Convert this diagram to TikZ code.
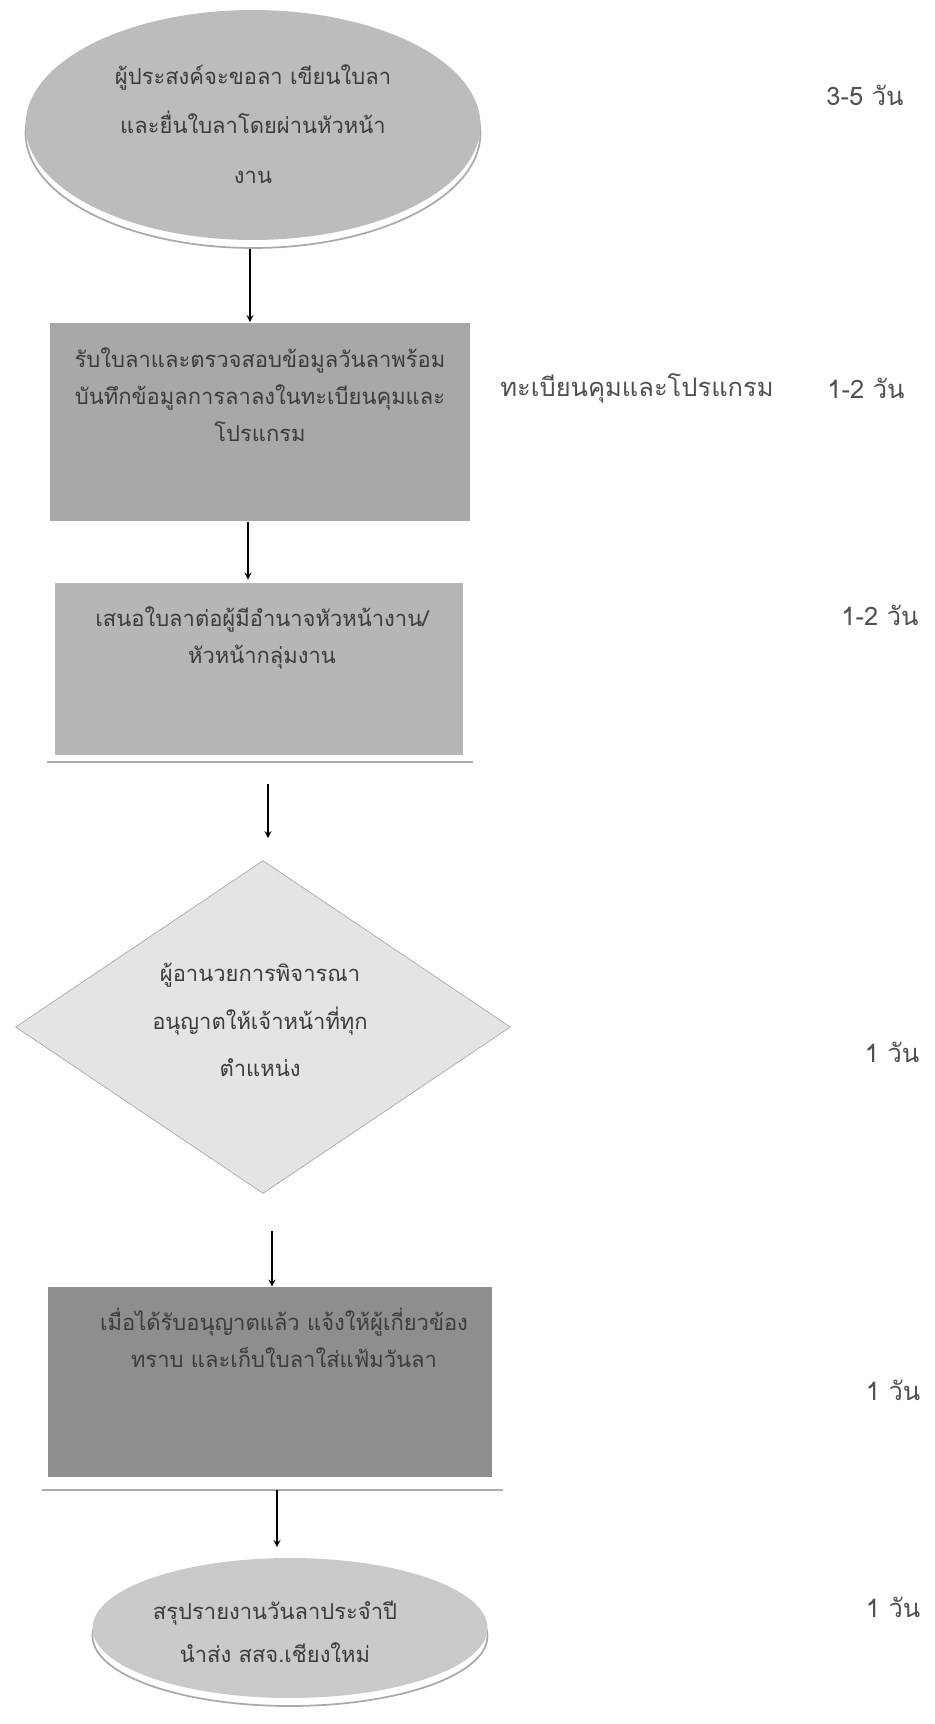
\documentclass[tikz,border=0pt]{standalone}
\usepackage{fontspec}
\setmainfont[Script=Thai]{Loma}
\usepackage{xcolor}
\usepackage{tikz}
\usetikzlibrary{shapes,arrows,positioning}
\definecolor{inkgray}{RGB}{60,60,60}
\definecolor{sidegray}{RGB}{80,80,80}
\definecolor{startfill}{RGB}{188,188,188}
\definecolor{recfill}{RGB}{168,168,168}
\definecolor{propfill}{RGB}{182,182,182}
\definecolor{decfill}{RGB}{228,228,228}
\definecolor{notefill}{RGB}{142,142,142}
\definecolor{endfill}{RGB}{202,202,202}
\definecolor{edgegray}{RGB}{170,170,170}

\begin{document}
\begin{tikzpicture}[
			x=0.02cm, y=-0.02cm,
			oval/.style={ellipse, draw=none, inner sep=0pt},
			ovalshade/.style={ellipse, fill=white, draw=edgegray, line width=1pt, inner sep=0pt},
			box/.style={rectangle, draw=none, inner sep=0pt},
			txt/.style={align=center, text=inkgray, font=\fontsize{12.5}{21}\selectfont},
			side/.style={text=sidegray, font=\fontsize{14.5}{18}\selectfont},
			rim/.style={draw=edgegray, line width=1.2pt},
			arrow/.style={->, >=stealth, thick}
		]
		\useasboundingbox (0,0) rectangle (934,1724);

		% shapes
		\node[ovalshade, minimum width=9.1cm, minimum height=4.6cm] (starts) at (253,133) {};
		\node[oval, fill=startfill, minimum width=9.1cm, minimum height=4.6cm] (start) at (253,125) {};
		\node[box, fill=recfill, minimum width=8.4cm, minimum height=3.98cm] (rec) at (260,422) {};
		\node[box, fill=propfill, minimum width=8.16cm, minimum height=3.44cm] (prop) at (259,669) {};
		\node[diamond, draw=edgegray, fill=decfill, inner sep=0pt, minimum width=9.9cm, minimum height=6.66cm] (dec) at (263,1027) {};
		\node[box, fill=notefill, minimum width=8.9cm, minimum height=3.8cm] (note) at (270,1382) {};
		\node[ovalshade, minimum width=7.9cm, minimum height=2.8cm] (ends) at (290,1636) {};
		\node[oval, fill=endfill, minimum width=7.9cm, minimum height=2.8cm] (end) at (290,1628) {};

		% texts
		\node[txt, font=\fontsize{12.5}{28}\selectfont] (startt) at (253,124) {ผู้ประสงค์จะขอลา เขียนใบลา\\และยื่นใบลาโดยผ่านหัวหน้า\\งาน};
		\node[txt] (rect) at (260,395) {รับใบลาและตรวจสอบข้อมูลวันลาพร้อม\\บันทึกข้อมูลการลาลงในทะเบียนคุมและ\\โปรแกรม};
		\node[txt] (propt) at (262,638) {เสนอใบลาต่อผู้มีอำนาจหัวหน้างาน/\\หัวหน้ากลุ่มงาน};
		\node[txt, font=\fontsize{12.5}{27}\selectfont] (dect) at (260,1020) {ผู้อานวยการพิจารณา\\อนุญาตให้เจ้าหน้าที่ทุก\\ตำแหน่ง};
		\node[txt] (notet) at (284,1338) {เมื่อได้รับอนุญาตแล้ว แจ้งให้ผู้เกี่ยวข้อง\\ทราบ และเก็บใบลาใส่แฟ้มวันลา};
		\node[txt, font=\fontsize{12.5}{24.5}\selectfont] (endt) at (275,1632) {สรุปรายงานวันลาประจำปี\\นำส่ง สสจ.เชียงใหม่};

		% side notes
		\node[side] (d1) at (865,95) {3-5 วัน};
		\node[side] (reg) at (637,388) {ทะเบียนคุมและโปรแกรม};
		\node[side] (d2) at (866,388) {1-2 วัน};
		\node[side] (d3) at (880,615) {1-2 วัน};
		\node[side] (d4) at (892,1052) {1 วัน};
		\node[side] (d5) at (893,1390) {1 วัน};
		\node[side] (d6) at (893,1607) {1 วัน};

		% rims under boxes
		\draw[rim] ([xshift=-0.16cm,yshift=-0.14cm]prop.south west) -- ([xshift=0.2cm,yshift=-0.14cm]prop.south east);
		\draw[rim] ([xshift=-0.1cm,yshift=-0.26cm]note.south west) -- ([xshift=0.2cm,yshift=-0.26cm]note.south east);

		% arrows
		\draw[arrow] ([xshift=-0.06cm]starts.south) -- ([xshift=-0.06cm]starts.south |- rec.north);
		\draw[arrow] ([xshift=-0.24cm]rec.south) -- ([xshift=-0.24cm,yshift=0.06cm]rec.south |- prop.north);
		\draw[arrow] ([xshift=0.18cm,yshift=-0.58cm]prop.south) -- ([xshift=0.18cm,yshift=0.44cm]prop.south |- dec.north);
		\draw[arrow] ([xshift=0.18cm,yshift=-0.74cm]dec.south) -- ([xshift=0.18cm]dec.south |- note.north);
		\draw[arrow] ([xshift=0.14cm,yshift=-0.26cm]note.south) -- ([xshift=0.14cm,yshift=0.36cm]note.south |- ends.north);

	\end{tikzpicture}
\end{document}
